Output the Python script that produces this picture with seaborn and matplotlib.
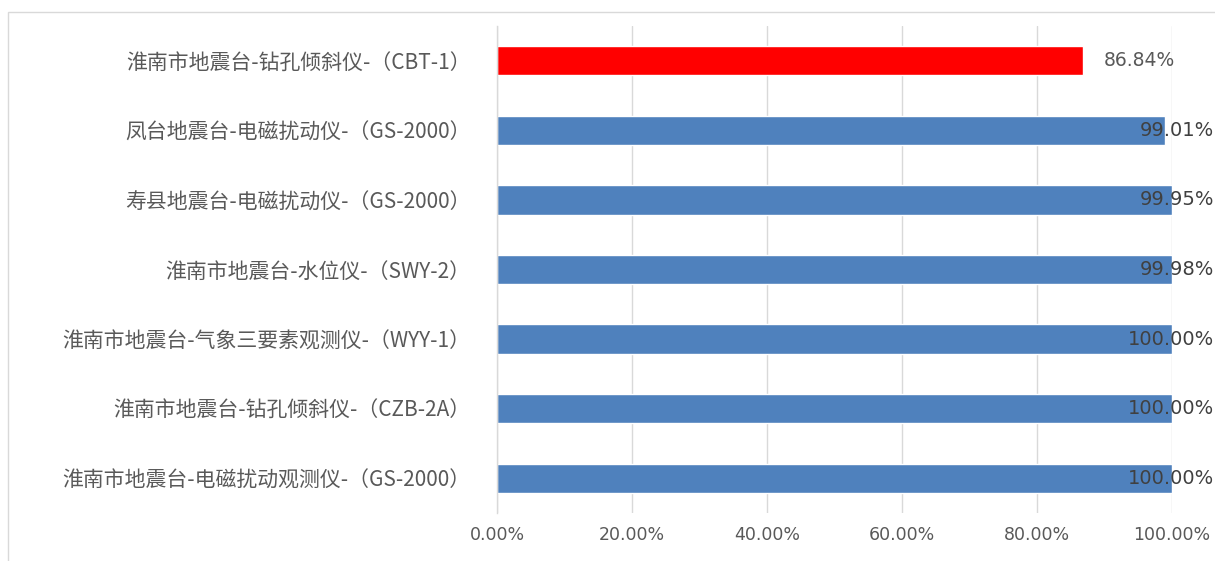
import matplotlib.pyplot as plt
import matplotlib.patches as mpatches
from matplotlib.ticker import FuncFormatter, FixedLocator
import seaborn as sns
import pandas as pd

# instrument data
stations = [
    "淮南市地震台-钻孔倾斜仪-（CBT-1）",
    "凤台地震台-电磁扰动仪-（GS-2000）",
    "寿县地震台-电磁扰动仪-（GS-2000）",
    "淮南市地震台-水位仪-（SWY-2）",
    "淮南市地震台-气象三要素观测仪-（WYY-1）",
    "淮南市地震台-钻孔倾斜仪-（CZB-2A）",
    "淮南市地震台-电磁扰动观测仪-（GS-2000）",
]
rates = [86.84, 99.01, 99.95, 99.98, 100.00, 100.00, 100.00]
bar_colors = ["#FF0000", "#4F81BD", "#4F81BD", "#4F81BD", "#4F81BD", "#4F81BD", "#4F81BD"]
x_ticks = [0, 20, 40, 60, 80, 100]

df = pd.DataFrame({"station": stations, "rate": rates})

sns.set_style("white")
plt.rcParams["font.family"] = ["Noto Sans CJK SC", "DejaVu Sans"]

fig = plt.figure(figsize=(12.15, 5.61), dpi=100)
ax = fig.add_axes([497 / 1215, 1 - 513 / 561, 675 / 1215, 487 / 561])

sns.barplot(data=df, x="rate", y="station", hue="station", palette=bar_colors,
            legend=False, width=0.42, orient="h", ax=ax, saturation=1)

ax.set_xlim(0, 100)
ax.set_ylim(6.5, -0.5)
ax.set_xlabel("")
ax.set_ylabel("")

# gridlines
ax.xaxis.set_major_locator(FixedLocator(x_ticks))
ax.grid(axis="x", color="#D9D9D9", linewidth=1)
ax.set_axisbelow(True)
ax.xaxis.set_major_formatter(FuncFormatter(lambda v, p: f"{v:.2f}%"))
ax.tick_params(axis="x", length=0, labelsize=12.5, labelcolor="#595959", pad=9)
for lab in ax.get_xticklabels():
    lab.set_family("DejaVu Sans")

# y axis: labels at centres, tick marks between categories
ax.tick_params(axis="y", which="major", length=0, labelsize=15, labelcolor="#595959", pad=19)
ax.yaxis.set_minor_locator(FixedLocator([i - 0.5 for i in range(len(stations) + 1)]))
ax.tick_params(axis="y", which="minor", length=6, color="#D9D9D9", width=1)

for s in ["top", "right", "bottom"]:
    ax.spines[s].set_visible(False)
ax.spines["left"].set_color("#D9D9D9")
ax.spines["left"].set_linewidth(1)

# value labels
for i, v in enumerate(rates):
    if v < 95:
        ax.text(v + 3, i, f"{v:.2f}%", va="center", ha="left", fontsize=13.5,
                color="#595959", family="DejaVu Sans")
    else:
        ax.text(106.2, i, f"{v:.2f}%", va="center", ha="right", fontsize=14,
                color="#404040", family="DejaVu Sans", clip_on=False)

# chart border
fig.patches.append(mpatches.Rectangle((8 / 1215, -0.05), 1.1, 1 - 12 / 561 + 0.05,
                                      transform=fig.transFigure, fill=False,
                                      edgecolor="#D9D9D9", linewidth=1))

fig.savefig("out.png", dpi=100)
